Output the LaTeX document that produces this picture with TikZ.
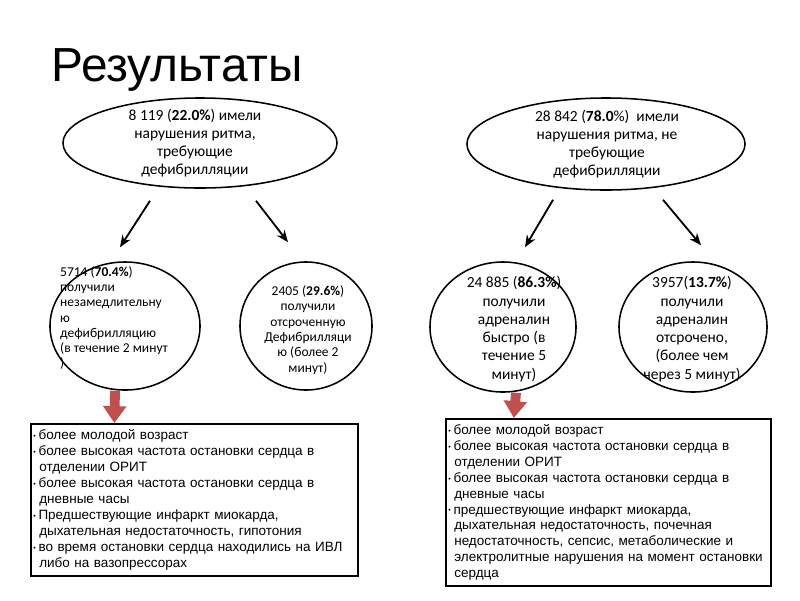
\documentclass[tikz,border=0pt]{standalone}
\usepackage{fontspec}
\setmainfont{Carlito}
\newfontfamily\arialfont{Liberation Sans}
\usepackage{xcolor}
\usepackage{tikz}
\usetikzlibrary{
  arrows.meta,
  shapes.geometric
}
\definecolor{ArrowRed}{HTML}{C0504D}
\definecolor{ArrowRedDark}{HTML}{8C3836}
\newcommand{\finding}{%
  \makebox[0.13cm][l]{\raisebox{0.8pt}{\fontsize{5}{5}\selectfont\textbullet}}}
\newcommand{\findingcont}{\hspace*{0.15cm}}
\tikzset{
  outcome/.style={
    ellipse,
    draw,
    line width=1.1pt,
    inner sep=0pt
  },
  outcometext/.style={
    align=center,
    inner sep=0pt,
    font=\fontsize{11}{12.8}\selectfont
  },
  smalltext/.style={
    outcometext,
    font=\fontsize{9.6}{10.9}\selectfont
  },
  findings/.style={
    draw,
    line width=1.3pt,
    anchor=north west,
    align=left,
    inner xsep=0.06cm,
    inner ysep=0.1cm,
    font=\arialfont\fontsize{9.6}{11.3}\selectfont
  },
  connection/.style={
    -{Stealth[length=3mm,width=2.4mm]},
    line width=1.3pt
  },
  emphasis/.style={
    -{Triangle[length=12pt,width=16pt]},
    line width=7pt,
    draw=ArrowRed
  }
}

\begin{document}
\begin{tikzpicture}[x=0.025cm,y=-0.025cm]

  \useasboundingbox (0,0) rectangle (800,600);

  \node[
    font=\arialfont\fontsize{34}{40}\selectfont,
    anchor=base west,
    inner sep=0pt
  ] (title) at (51,81) {Результаты};

  % upper groups
  \node[
    outcome,
    minimum width=6.85cm,
    minimum height=2.25cm
  ] (top1) at (200,143) {};
  \node[outcometext] (top1text) at (195,143) {
    8 119 (\textbf{22.0\%}) имели\\
    нарушения ритма,\\
    требующие\\
    дефибрилляции
  };

  \node[
    outcome,
    minimum width=6.95cm,
    minimum height=2.3cm
  ] (top2) at (606,144) {};
  \node[outcometext] (top2text) at (607,144) {
    28 842 (\textbf{78.0}\%)~ имели\\
    нарушения ритма, не\\
    требующие\\
    дефибрилляции
  };

  % lower groups
  \node[
    outcome,
    minimum width=3.75cm,
    minimum height=3.2cm
  ] (left1) at (125,326) {};
  \node[
    smalltext,
    align=left
  ] (left1text) at (114,318) {
    5714 (\textbf{70.4\%})\\
    получили\\
    незамедлительну\\
    ю\\
    дефибрилляцию\\
    (в течение 2 минут\\
    )
  };

  \node[
    outcome,
    minimum width=3.3cm,
    minimum height=3.2cm
  ] (left2) at (306,326) {};
  \node[smalltext] (left2text) at (308,330) {
    2405 (\textbf{29.6\%})\\
    получили\\
    отсроченную\\
    Дефибрилляци\\
    ю (более 2\\
    минут)
  };

  \node[
    outcome,
    minimum width=3.65cm,
    minimum height=3.25cm
  ] (right1) at (503,327) {};
  \node[
    outcometext,
    font=\fontsize{11}{13}\selectfont
  ] (right1text) at (514,329) {
    24 885 (\textbf{86.3\%})\\
    получили\\
    адреналин\\
    быстро (в\\
    течение 5\\
    минут)
  };

  \node[
    outcome,
    minimum width=3.7cm,
    minimum height=3.25cm
  ] (right2) at (693,327) {};
  \node[
    outcometext,
    font=\fontsize{11}{13}\selectfont
  ] (right2text) at (692,329) {
    3957(\textbf{13.7\%})\\
    получили\\
    адреналин\\
    отсрочено,\\
    (более чем\\
    через 5 минут)
  };

  \draw[connection]
  ([shift={(-50,12)}]top1.south) --
  ([shift={(-5,-14)}]left1.north);

  \draw[connection]
  ([shift={(56,12)}]top1.south) --
  ([shift={(-18,-19)}]left2.north);

  \draw[connection]
  ([shift={(-53,9)}]top2.south) --
  ([shift={(22,-14)}]right1.north);

  \draw[connection]
  ([shift={(57,9)}]top2.south) --
  ([shift={(8,-16)}]right2.north);

  % findings
  \node[
    findings,
    text width=8.05cm,
    minimum height=3.8cm
  ] (box1) at (30,423) {
    \finding более молодой возраст\\
    \finding более высокая частота остановки сердца в\\
    \findingcont отделении ОРИТ\\
    \finding более высокая частота остановки сердца в\\
    \findingcont дневные часы\\
    \finding Предшествующие инфаркт миокарда,\\
    \findingcont дыхательная недостаточность, гипотония\\
    \finding во время остановки сердца находились на ИВЛ\\
    \findingcont либо на вазопрессорах
  };

  \node[
    findings,
    text width=8.0cm,
    minimum height=4.18cm
  ] (box2) at (445,418) {
    \finding более молодой возраст\\
    \finding более высокая частота остановки сердца в\\
    \findingcont отделении ОРИТ\\
    \finding более высокая частота остановки сердца в\\
    \findingcont дневные часы\\
    \finding предшествующие инфаркт миокарда,\\
    \findingcont дыхательная недостаточность, почечная\\
    \findingcont недостаточность, сепсис, метаболические и\\
    \findingcont электролитные нарушения на момент остановки\\
    \findingcont сердца
  };

  \draw[emphasis]
  ([shift={(-10,0)}]left1.south) --
  ([shift={(-80,0)}]box1.north);

  \draw[emphasis]
  ([shift={(13,0)}]right1.south) --
  ([shift={(-94.5,0)}]box2.north);

\end{tikzpicture}
\end{document}
